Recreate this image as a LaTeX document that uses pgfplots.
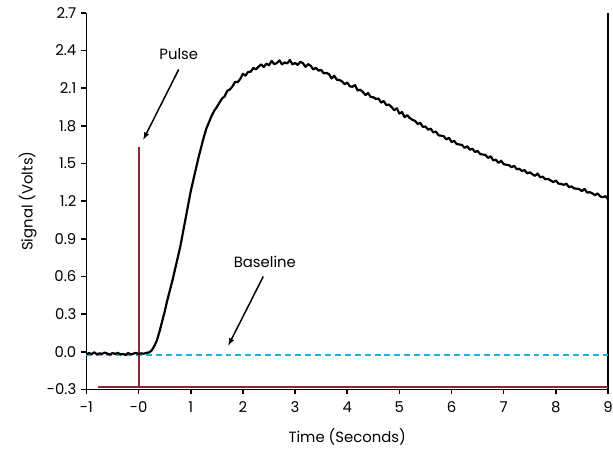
\documentclass[border=0pt]{standalone}
\usepackage{pgfplots}
\pgfplotsset{compat=1.18}
\usepackage{fontspec}
\setmainfont{Poppins}
\definecolor{pulsered}{HTML}{8C2638}
\definecolor{basecyan}{HTML}{1CB2E6}
\newcommand{\lblfont}{\fontsize{15}{18}\selectfont}
\begin{document}
\begin{tikzpicture}
\lblfont
\begin{axis}[
  scale only axis,
  width=525bp, height=379bp,
  xmin=-1, xmax=9, ymin=-0.3, ymax=2.7,
  axis x line=bottom, axis y line=left,
  axis line style={line width=1.8bp, -},
  xtick={-1,0,1,2,3,4,5,6,7,8,9},
  xticklabels={-1,-0,1,2,3,4,5,6,7,8,9},
  ytick={-0.3,0,0.3,0.6,0.9,1.2,1.5,1.8,2.1,2.4,2.7},
  yticklabels={-0.3,0.0,0.3,0.6,0.9,1.2,1.5,1.8,2.1,2.4,2.7},
  tick align=outside,
  major tick length=5bp,
  tick style={line width=1.5bp, black},
  xticklabel style={font=\lblfont, yshift=-2bp},
  yticklabel style={font=\lblfont, xshift=0bp},
  xlabel={Time (Seconds)},
  ylabel={Signal (Volts)},
  xlabel style={font=\lblfont, at={([yshift=-48bp]axis description cs:0.5,0)}, anchor=center},
  ylabel style={font=\lblfont, at={([xshift=-59bp]axis description cs:0,0.5)}, anchor=center, rotate=0},
  clip=false,
]
\coordinate (ll) at (rel axis cs:0,0);
\coordinate (ur) at (rel axis cs:1,1);
% right frame line
\draw[line width=1.8bp] (rel axis cs:1,0) -- (rel axis cs:1,1);
% baseline
\addplot[color=basecyan, line width=1.8bp, dash pattern=on 6bp off 4bp] coordinates {(-1,-0.025) (9,-0.025)};
% pulse
\addplot[color=pulsered, line width=2bp] coordinates {(-0.78,-0.282) (0,-0.282) (0,1.63) (0,-0.282) (9,-0.282)};
% signal
\addplot[black, line width=2.2bp, line join=round] coordinates {
(-1.00,-0.020) (-0.95,-0.010) (-0.90,-0.018) (-0.85,-0.004) (-0.80,-0.020)
(-0.75,-0.012) (-0.70,-0.016) (-0.65,-0.006) (-0.60,-0.014) (-0.55,-0.022)
(-0.50,-0.010) (-0.45,-0.017) (-0.40,-0.008) (-0.35,-0.020) (-0.30,-0.018)
(-0.25,-0.024) (-0.20,-0.010) (-0.15,-0.020) (-0.10,-0.015) (-0.05,-0.008)
(0.00,-0.018) (0.05,-0.012) (0.10,-0.015) (0.15,-0.008) (0.20,-0.005)
(0.25,0.010) (0.30,0.045) (0.35,0.090) (0.40,0.160) (0.45,0.240)
(0.50,0.320) (0.55,0.410) (0.60,0.490) (0.65,0.570) (0.70,0.660)
(0.75,0.750) (0.80,0.840) (0.85,0.950) (0.90,1.060) (0.95,1.170)
(1.00,1.280) (1.05,1.370) (1.10,1.460) (1.15,1.550) (1.20,1.630)
(1.25,1.710) (1.30,1.780) (1.35,1.830) (1.40,1.880) (1.45,1.920)
(1.50,1.950) (1.55,1.985) (1.60,2.018) (1.65,2.035) (1.70,2.080)
(1.75,2.090) (1.80,2.115) (1.85,2.150) (1.90,2.148) (1.95,2.175)
(2.00,2.215) (2.05,2.200) (2.10,2.230) (2.15,2.232) (2.20,2.262)
(2.25,2.250) (2.30,2.272) (2.35,2.290) (2.40,2.268) (2.45,2.296)
(2.50,2.283) (2.55,2.318) (2.60,2.292) (2.65,2.300) (2.70,2.322)
(2.75,2.290) (2.80,2.305) (2.85,2.298) (2.90,2.325) (2.95,2.290)
(3.00,2.302) (3.05,2.285) (3.10,2.310) (3.15,2.300) (3.20,2.270)
(3.25,2.292) (3.30,2.278) (3.35,2.250) (3.40,2.262) (3.45,2.240)
(3.50,2.246) (3.55,2.218) (3.60,2.222) (3.65,2.212) (3.70,2.178)
(3.75,2.200) (3.80,2.168) (3.85,2.165) (3.90,2.155) (3.95,2.132)
(4.00,2.145) (4.05,2.115) (4.10,2.112) (4.15,2.125) (4.20,2.082)
(4.25,2.088) (4.30,2.070) (4.35,2.045) (4.40,2.062) (4.45,2.030)
(4.50,2.028) (4.55,2.015) (4.60,2.018) (4.65,1.985) (4.70,1.998)
(4.75,1.965) (4.80,1.970) (4.85,1.950) (4.90,1.925) (4.95,1.940)
(5.00,1.898) (5.05,1.910) (5.10,1.870) (5.15,1.885) (5.20,1.862)
(5.25,1.848) (5.30,1.840) (5.35,1.815) (5.40,1.825) (5.45,1.792)
(5.50,1.795) (5.55,1.770) (5.60,1.778) (5.65,1.748) (5.70,1.755)
(5.75,1.725) (5.80,1.722) (5.85,1.718) (5.90,1.692) (5.95,1.705)
(6.00,1.672) (6.05,1.680) (6.10,1.655) (6.15,1.652) (6.20,1.648)
(6.25,1.625) (6.30,1.638) (6.35,1.610) (6.40,1.618) (6.45,1.592)
(6.50,1.600) (6.55,1.575) (6.60,1.572) (6.65,1.568) (6.70,1.545)
(6.75,1.558) (6.80,1.525) (6.85,1.530) (6.90,1.505) (6.95,1.522)
(7.00,1.495) (7.05,1.490) (7.10,1.488) (7.15,1.470) (7.20,1.482)
(7.25,1.455) (7.30,1.458) (7.35,1.440) (7.40,1.448) (7.45,1.422)
(7.50,1.430) (7.55,1.415) (7.60,1.402) (7.65,1.420) (7.70,1.390)
(7.75,1.395) (7.80,1.375) (7.85,1.378) (7.90,1.365) (7.95,1.352)
(8.00,1.365) (8.05,1.340) (8.10,1.338) (8.15,1.330) (8.20,1.340)
(8.25,1.312) (8.30,1.318) (8.35,1.302) (8.40,1.300) (8.45,1.295)
(8.50,1.280) (8.55,1.298) (8.60,1.268) (8.65,1.272) (8.70,1.262)
(8.75,1.248) (8.80,1.262) (8.85,1.238) (8.90,1.232) (8.95,1.240)
(9.00,1.215)
};
% annotations
\node[font=\lblfont] at (axis cs:0.77,2.37) {Pulse};
\draw[-latex, line width=1.5bp] (axis cs:0.77,2.25) -- (axis cs:0.09,1.69);
\node[font=\lblfont] at (axis cs:2.42,0.72) {Baseline};
\draw[-latex, line width=1.5bp] (axis cs:2.39,0.60) -- (axis cs:1.72,0.05);
\end{axis}
\pgfresetboundingbox
\path ([shift={(-87bp,-61bp)}]ll) rectangle ([shift={(5bp,13bp)}]ur);
\end{tikzpicture}
\end{document}
